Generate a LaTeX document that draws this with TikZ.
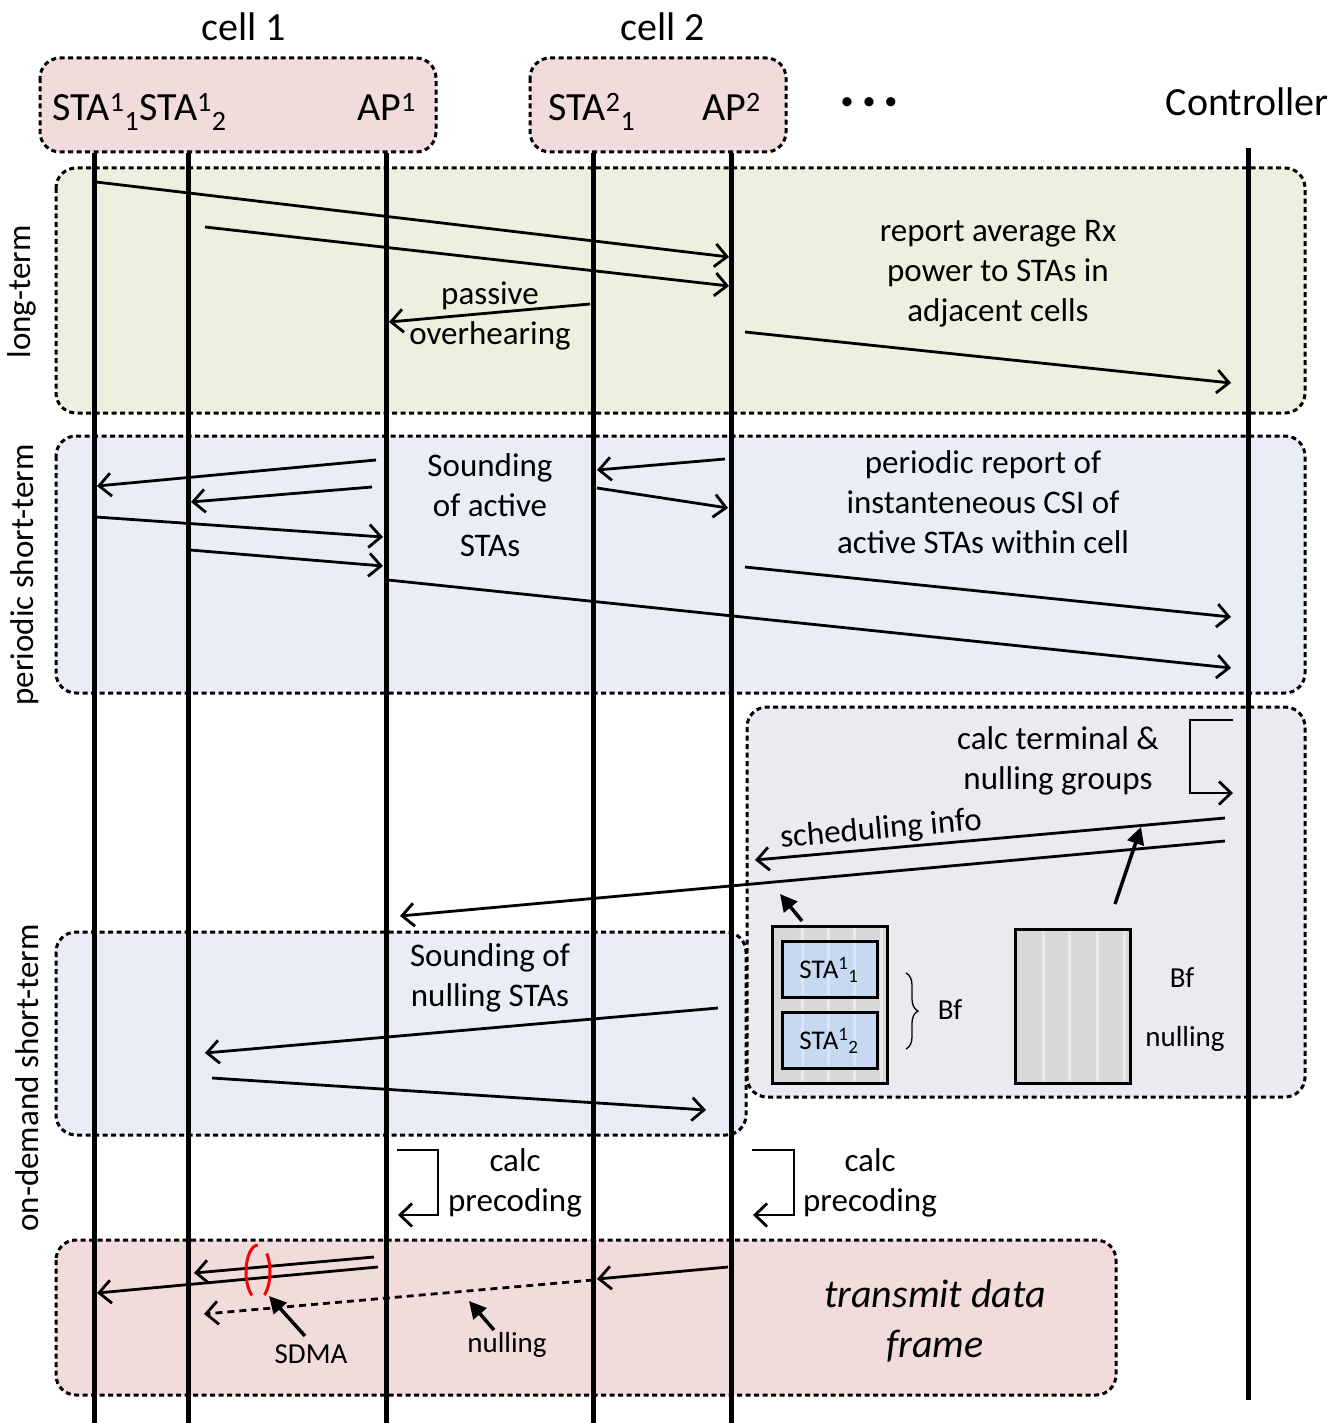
\documentclass[tikz,border=0pt]{standalone}
\usepackage{fontspec}
\setmainfont{Carlito}
\usetikzlibrary{arrows.meta,decorations.pathreplacing}

\definecolor{cellpink}{RGB}{242,220,219}
\definecolor{longgreen}{RGB}{235,241,222}
\definecolor{shortblue}{RGB}{233,238,246}
\definecolor{ctrlgray}{RGB}{236,233,240}
\definecolor{stablue}{RGB}{198,217,241}
\definecolor{stripeblue}{RGB}{219,229,243}
\definecolor{boxgray}{RGB}{216,216,216}
\definecolor{stripegray}{RGB}{234,234,234}

\tikzset{
  phase/.style={draw=black, line width=3pt, dash pattern=on 5pt off 3.5pt, rounded corners=20pt},
  lifeline/.style={line width=5pt},
  msg/.style={line width=2.8pt, -{Straight Barb[length=12pt,width=23pt]}},
  nullmsg/.style={msg, dash pattern=on 7pt off 5pt},
  pointer/.style={line width=3.5pt, -{Triangle[length=17pt,width=17pt]}},
  hdr/.style={font=\fontsize{40}{48}\selectfont, inner sep=0pt},
  body/.style={font=\fontsize{33}{40}\selectfont, align=center, inner sep=0pt},
  small/.style={font=\fontsize{29}{36}\selectfont, inner sep=0pt},
  boxtext/.style={font=\fontsize{27}{32}\selectfont, inner sep=0pt},
  sidelabel/.style={font=\fontsize{33}{40}\selectfont, inner sep=0pt, rotate=90},
  outline/.style={draw=black, line width=3pt},
}

\begin{document}
\begin{tikzpicture}[x=1pt,y=-1pt]
\useasboundingbox (0,0) rectangle (1333,1423);
\fill[white] (0,0) rectangle (1333,1423);

% ---- cell boxes and column headers ----
\draw[phase, fill=cellpink] (40,58) rectangle (436,152);
\draw[phase, fill=cellpink] (530,58) rectangle (786,152);
\node[hdr] (cellA) at (244,27) {cell 1};
\node[hdr] (cellB) at (663,27) {cell 2};
\node[hdr, anchor=base west] (hSTAa) at (52,121) {STA\textsuperscript{1}\textsubscript{1}};
\node[hdr, anchor=base west] (hSTAb) at (hSTAa.base east) {STA\textsuperscript{1}\textsubscript{2}};
\node[hdr, anchor=base east] (hAPa) at (416,121) {AP\textsuperscript{1}};
\node[hdr, anchor=base west] (hSTAc) at (548,121) {STA\textsuperscript{2}\textsubscript{1}};
\node[hdr, anchor=base east] (hAPb) at (761,121) {AP\textsuperscript{2}};
\node[font=\fontsize{26}{30}\selectfont, inner sep=0pt] (more) at (869,104) {•\hspace{9pt}•\hspace{9pt}•};
\node[hdr, anchor=base east] (hCtrl) at (1329,116) {Controller};

% ---- phases ----
\draw[phase, fill=longgreen] (56,168) rectangle (1305,413);
\draw[phase, fill=shortblue] (56,436) rectangle (1305,693);
\draw[phase, fill=ctrlgray] (747,707) rectangle (1305,1097);
\draw[phase, fill=shortblue] (56,932) rectangle (746,1135);
\draw[phase, fill=cellpink] (56,1240) rectangle (1116,1395);

\node[sidelabel] (lLong) at (22,292) {long-term};
\node[sidelabel] (lPer) at (25,575) {periodic short-term};
\node[sidelabel] (lDem) at (27,1078) {on-demand short-term};

% ---- lifelines ----
\coordinate (L1t) at (94,153);   \coordinate (L1b) at (94,1423);
\coordinate (L2t) at (188,153);  \coordinate (L2b) at (188,1423);
\coordinate (L3t) at (386,153);  \coordinate (L3b) at (386,1423);
\coordinate (L4t) at (593,153);  \coordinate (L4b) at (593,1423);
\coordinate (L5t) at (731,153);  \coordinate (L5b) at (731,1423);
\coordinate (L6t) at (1248,148); \coordinate (L6b) at (1248,1400);
\foreach \i in {1,...,6} \draw[lifeline] (L\i t) -- (L\i b);

% ---- long-term ----
\coordinate (a1) at (96,182);   \coordinate (a2) at (729,257);
\coordinate (b1) at (205,227);  \coordinate (b2) at (729,286);
\coordinate (c1) at (590,304);  \coordinate (c2) at (389,322);
\coordinate (d1) at (745,332);  \coordinate (d2) at (1231,383);
\draw[msg] (a1) -- (a2);
\draw[msg] (b1) -- (b2);
\draw[msg] (c1) -- (c2);
\draw[msg] (d1) -- (d2);
\node[body] (tPas) at (490,296) {passive};
\node[body] (tOver) at (490,336) {overhearing};
\node[body] (tRep) at (998,274) {report average Rx\\power to STAs in\\adjacent cells};

% ---- periodic short-term ----
\coordinate (e1) at (376,460);  \coordinate (e2) at (97,486);
\coordinate (f1) at (372,487);  \coordinate (f2) at (191,502);
\coordinate (g1) at (96,517);   \coordinate (g2) at (383,537);
\coordinate (h1) at (190,550);  \coordinate (h2) at (383,566);
\coordinate (i1) at (388,580);  \coordinate (i2) at (1231,668);
\coordinate (j1) at (725,459);  \coordinate (j2) at (597,470);
\coordinate (k1) at (597,488);  \coordinate (k2) at (728,508);
\coordinate (n1) at (745,567);  \coordinate (n2) at (1231,617);
\foreach \s/\e in {e1/e2,f1/f2,g1/g2,h1/h2,i1/i2,j1/j2,k1/k2,n1/n2}
  \draw[msg] (\s) -- (\e);
\node[body] (tSnd) at (490,505) {Sounding\\of active\\STAs};
\node[body] (tPrep) at (983,502) {periodic report of\\instanteneous CSI of\\active STAs within cell};

% ---- controller: grouping and scheduling ----
\coordinate (q1) at (1233,720); \coordinate (q2) at (1190,720);
\coordinate (q3) at (1190,793); \coordinate (q4) at (1233,793);
\draw[msg] (q1) -- (q2) -- (q3) -- (q4);
\node[body] (tCalc) at (1058,761) {calc terminal \&\\nulling groups};
\coordinate (r1) at (1225,818); \coordinate (r2) at (755,860);
\coordinate (s1) at (1225,841); \coordinate (s2) at (400,916);
\draw[msg] (r1) -- (r2);
\draw[msg] (s1) -- (s2);
\node[body, rotate=5.1] (tSched) at (881,830) {scheduling info};

% beamforming group box
\fill[boxgray] (772,926) rectangle (887,1083);
\foreach \x in {802,828,854,881} \draw[stripegray, line width=3pt] (\x,928) -- (\x,1081);
\foreach \y in {941,1012}{
  \fill[stablue] (782,\y) rectangle (877,\y+56);
  \foreach \x in {802,828,854} \draw[stripeblue, line width=3pt] (\x,\y+2) -- (\x,\y+54);
  \draw[outline] (782,\y) rectangle (877,\y+56);
}
\draw[outline] (772,926) rectangle (887,1083);
\node[boxtext] (bfA) at (829,970) {STA\textsuperscript{1}\textsubscript{1}};
\node[boxtext] (bfB) at (829,1041) {STA\textsuperscript{1}\textsubscript{2}};
\coordinate (br1) at (906,973); \coordinate (br2) at (906,1049);
\draw[line width=1.3pt, decorate, decoration={brace, amplitude=12pt}] (br1) -- (br2);
\node[small] (tBf) at (950,1010) {Bf};

% nulling group box
\fill[boxgray] (1015,929) rectangle (1130,1083);
\foreach \x in {1043,1069,1097,1124} \draw[stripegray, line width=3pt] (\x,931) -- (\x,1081);
\draw[outline] (1015,929) rectangle (1130,1083);
\node[small] (tBf2) at (1182,978) {Bf};
\node[small] (tNul2) at (1185,1039) {nulling};

\coordinate (u1) at (802,921);  \coordinate (u2) at (780,894);
\coordinate (v1) at (1115,904); \coordinate (v2) at (1141,827);
\draw[pointer] (u1) -- (u2);
\draw[pointer] (v1) -- (v2);

% ---- on-demand short-term ----
\coordinate (w1) at (718,1008); \coordinate (w2) at (205,1053);
\coordinate (z1) at (212,1078); \coordinate (z2) at (706,1110);
\draw[msg] (w1) -- (w2);
\draw[msg] (z1) -- (z2);
\node[body] (tSnd2) at (490,978) {Sounding of\\nulling STAs};

% ---- precoding at the access points ----
\coordinate (pa1) at (397,1150); \coordinate (pa2) at (438,1150);
\coordinate (pa3) at (438,1215); \coordinate (pa4) at (398,1215);
\draw[msg] (pa1) -- (pa2) -- (pa3) -- (pa4);
\node[body] (tPrcA) at (515,1183) {calc\\precoding};
\coordinate (pb1) at (752,1150); \coordinate (pb2) at (794,1150);
\coordinate (pb3) at (794,1215); \coordinate (pb4) at (753,1215);
\draw[msg] (pb1) -- (pb2) -- (pb3) -- (pb4);
\node[body] (tPrcB) at (870,1183) {calc\\precoding};

% ---- data transmission ----
\coordinate (x1) at (374,1257); \coordinate (x2) at (194,1273);
\coordinate (y1) at (378,1267); \coordinate (y2) at (97,1293);
\coordinate (o1) at (728,1267); \coordinate (o2) at (597,1279);
\coordinate (o3) at (593,1280); \coordinate (o4) at (204,1314);
\draw[msg] (x1) -- (x2);
\draw[msg] (y1) -- (y2);
\draw[msg] (o1) -- (o2);
\draw[nullmsg] (o3) -- (o4);
% SDMA grouping mark: two arcs around the parallel streams
\draw[red, line width=3pt, dash pattern=on 24pt off 15pt on 56pt off 13pt on 40pt] (258,1272) ellipse [x radius=12, y radius=27];
\coordinate (sd1) at (305,1336); \coordinate (sd2) at (269,1296);
\coordinate (nl1) at (494,1330); \coordinate (nl2) at (469,1301);
\draw[pointer] (sd1) -- (sd2);
\draw[pointer] (nl1) -- (nl2);
\node[small] (tSDMA) at (311,1354) {SDMA};
\node[small] (tNul) at (507,1345) {nulling};
\node[font=\fontsize{40}{50}\selectfont\itshape, align=center, inner sep=0pt] (tData) at (935,1321) {transmit data\\frame};
\end{tikzpicture}
\end{document}
